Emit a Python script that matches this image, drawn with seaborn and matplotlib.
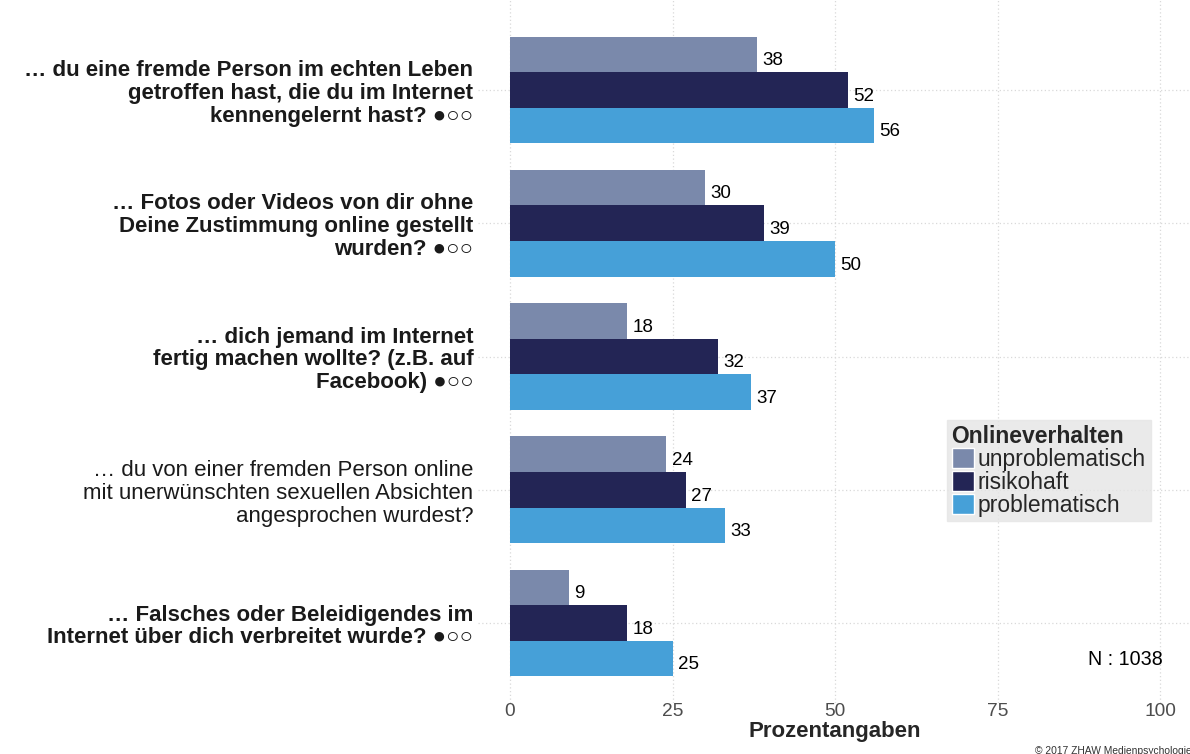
import matplotlib
matplotlib.use('Agg')
import matplotlib.pyplot as plt
import numpy as np
import pandas as pd
import seaborn as sns

questions = [
    "… du eine fremde Person im echten Leben\ngetroffen hast, die du im Internet\nkennengelernt hast? ●○○",
    "… Fotos oder Videos von dir ohne\nDeine Zustimmung online gestellt\nwurden? ●○○",
    "… dich jemand im Internet\nfertig machen wollte? (z.B. auf\nFacebook) ●○○",
    "… du von einer fremden Person online\nmit unerwünschten sexuellen Absichten\nangesprochen wurdest?",
    "… Falsches oder Beleidigendes im\nInternet über dich verbreitet wurde? ●○○",
]
bold_labels = [True, True, True, False, True]
groups = ["unproblematisch", "risikohaft", "problematisch"]
unproblematisch = [38, 30, 18, 24, 9]
risikohaft = [52, 39, 32, 27, 18]
problematisch = [56, 50, 37, 33, 25]
colors = ["#7A89AB", "#232555", "#46A0D8"]
ticks = [0, 25, 50, 75, 100]

df = pd.DataFrame({
    "frage": questions * 3,
    "gruppe": np.repeat(groups, len(questions)),
    "wert": unproblematisch + risikohaft + problematisch,
})

sns.set_style("white")
plt.rcParams['font.family'] = ['Liberation Sans', 'DejaVu Sans']

fig = plt.figure(figsize=(11.9, 7.54), dpi=100)
ax = fig.add_axes([0.4013, 0.0676, 0.6008, 0.9324])

# dotted grid behind bars
for t in ticks:
    ax.axvline(t, color="#D9D9D9", lw=0.9, ls=(0, (1, 2)), zorder=0)
for i in range(len(questions)):
    ax.axhline(i, color="#D9D9D9", lw=0.9, ls=(0, (1, 2)), zorder=0)

sns.barplot(data=df, y="frage", x="wert", hue="gruppe", hue_order=groups,
            palette=colors, orient="h", width=0.8, saturation=1, linewidth=0,
            ax=ax, zorder=2)

for cont in ax.containers:
    for bar in cont:
        w = bar.get_width()
        yc = bar.get_y() + bar.get_height() / 2
        ax.annotate(f"{w:.0f}", (w, yc), xytext=(4, -4.5), textcoords="offset points",
                    ha="left", va="center", fontsize=13.5, color="black")

ax.set_xlim(-5, 105)
ax.set_ylim(len(questions) - 0.4, -0.675)
ax.set_xticks(ticks)
ax.set_xticklabels([str(t) for t in ticks], fontsize=13.8, color="#4D4D4D")
ax.tick_params(axis="both", length=0)
ax.tick_params(axis="x", pad=0)
ax.set_yticks(range(len(questions)))
ax.set_yticklabels(questions, fontsize=16, color="#1A1A1A", linespacing=1.12)
for lab, b in zip(ax.get_yticklabels(), bold_labels):
    lab.set_fontweight("bold" if b else "normal")
    lab.set_horizontalalignment("right")
ax.tick_params(axis="y", pad=3)
ax.set_ylabel("")
ax.set_xlabel("Prozentangaben", fontsize=16, fontweight="bold", labelpad=1)
sns.despine(ax=ax, left=True, bottom=True)

handles, labels = ax.get_legend_handles_labels()
for h in handles:
    h.set_edgecolor("white")
    h.set_linewidth(1)
leg = ax.legend(handles, labels, title="Onlineverhalten", loc="upper left",
                bbox_to_anchor=(947 / 1190, 1 - 420 / 754), bbox_transform=fig.transFigure,
                fontsize=16.5, title_fontsize=16.5, frameon=True, fancybox=False,
                handlelength=1.0, handleheight=1.0, handletextpad=0.15,
                labelspacing=0.0, borderpad=0.2, borderaxespad=0)
leg.get_title().set_fontweight("bold")
leg._legend_box.align = "left"
leg.get_frame().set_facecolor("#E5E5E5")
leg.get_frame().set_edgecolor("#E5E5E5")

ax.text(0.958, 0.062, "N : 1038", transform=ax.transAxes, ha="right", va="center",
        fontsize=14.2, color="black")
fig.text(1035 / 1190, 1 - 751 / 754, "© 2017 ZHAW Medienpsychologie", ha="left",
         va="center", fontsize=7.4, color="#333333")

fig.savefig("out.png", dpi=100)
